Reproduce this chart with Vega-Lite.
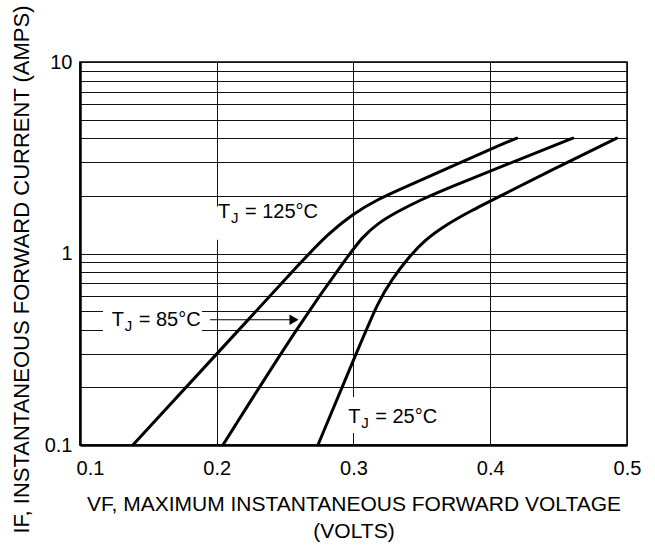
{
  "$schema": "https://vega.github.io/schema/vega-lite/v6.json",
  "width": 547,
  "height": 383,
  "autosize": {"type": "none"},
  "padding": {"left": 80, "top": 62, "right": 28, "bottom": 102},
  "background": "white",
  "config": {
    "font": "Liberation Sans",
    "view": {"stroke": "#000", "strokeWidth": 1.5},
    "axis": {
      "grid": true,
      "gridColor": "#111",
      "gridWidth": 1,
      "gridOpacity": 1,
      "ticks": false,
      "tickSize": 0,
      "domain": true,
      "domainColor": "#000",
      "domainWidth": 2.5,
      "labelColor": "#000",
      "labelFontSize": 20,
      "labelFont": "Liberation Sans",
      "titleFont": "Liberation Sans",
      "titleFontSize": 21,
      "titleFontWeight": "normal",
      "titleColor": "#000",
      "labelOverlap": false
    }
  },
  "datasets": {
    "curves": [
      {"tj": "125", "v": 0.1387, "i": 0.1},
      {"tj": "125", "v": 0.2001, "i": 0.299},
      {"tj": "125", "v": 0.2652, "i": 0.964},
      {"tj": "125", "v": 0.2813, "i": 1.26},
      {"tj": "125", "v": 0.2988, "i": 1.6},
      {"tj": "125", "v": 0.3178, "i": 1.92},
      {"tj": "125", "v": 0.3376, "i": 2.22},
      {"tj": "125", "v": 0.3705, "i": 2.82},
      {"tj": "125", "v": 0.407, "i": 3.68},
      {"tj": "125", "v": 0.4194, "i": 4.0},
      {"tj": "85", "v": 0.2045, "i": 0.1},
      {"tj": "85", "v": 0.2623, "i": 0.451},
      {"tj": "85", "v": 0.2974, "i": 1.0},
      {"tj": "85", "v": 0.3061, "i": 1.21},
      {"tj": "85", "v": 0.3178, "i": 1.44},
      {"tj": "85", "v": 0.3325, "i": 1.66},
      {"tj": "85", "v": 0.35, "i": 1.92},
      {"tj": "85", "v": 0.3705, "i": 2.22},
      {"tj": "85", "v": 0.3997, "i": 2.69},
      {"tj": "85", "v": 0.4604, "i": 4.0},
      {"tj": "25", "v": 0.274, "i": 0.1},
      {"tj": "25", "v": 0.301, "i": 0.289},
      {"tj": "25", "v": 0.3186, "i": 0.574},
      {"tj": "25", "v": 0.3281, "i": 0.731},
      {"tj": "25", "v": 0.339, "i": 0.931},
      {"tj": "25", "v": 0.3522, "i": 1.18},
      {"tj": "25", "v": 0.3683, "i": 1.42},
      {"tj": "25", "v": 0.3851, "i": 1.66},
      {"tj": "25", "v": 0.407, "i": 1.99},
      {"tj": "25", "v": 0.4458, "i": 2.75},
      {"tj": "25", "v": 0.4925, "i": 4.0}
    ],
    "boxes": [
      {"v": 0.1965, "v2": 0.2827, "i": 1.18, "i2": 1.76},
      {"v": 0.1168, "v2": 0.1892, "i": 0.355, "i2": 0.574},
      {"v": 0.2937, "v2": 0.3683, "i": 0.1156, "i2": 0.178}
    ],
    "labels": [
      {"v": 0.2009, "i": 1.64, "rest": "= 125°C"},
      {"v": 0.1232, "i": 0.451, "rest": "= 85°C"},
      {"v": 0.2961, "i": 0.14, "rest": "= 25°C"}
    ],
    "arrow": [
      {"v": 0.1951, "v2": 0.2545, "i": 0.451, "tip": 0.2565}
    ]
  },
  "encoding": {
    "x": {
      "field": "v",
      "type": "quantitative",
      "scale": {"domain": [0.1, 0.5], "nice": false, "zero": false},
      "axis": {
        "values": [0.1, 0.2, 0.3, 0.4, 0.5],
        "format": ".1f",
        "labelFlush": false,
        "labelPadding": 13,
        "labelOffset": {"condition": {"test": "datum.value < 0.15", "value": 10}, "value": 0},
        "title": ["VF, MAXIMUM INSTANTANEOUS FORWARD VOLTAGE", "(VOLTS)"],
        "titlePadding": 15,
        "titleLineHeight": 27
      }
    },
    "y": {
      "field": "i",
      "type": "quantitative",
      "scale": {"type": "log", "domain": [0.1, 10], "nice": false},
      "axis": {
        "values": [0.1, 0.2, 0.3, 0.4, 0.5, 0.6, 0.7, 0.8, 0.9, 1, 2, 3, 4, 5, 6, 7, 8, 9, 10],
        "labelExpr": "datum.value == 0.1 ? '0.1' : datum.value == 1 ? '1' : datum.value == 10 ? '10' : ''",
        "labelPadding": 8,
        "title": "IF, INSTANTANEOUS FORWARD CURRENT (AMPS)",
        "titleFontSize": 22,
        "titleY": 207,
        "titlePadding": 11
      }
    }
  },
  "layer": [
    {
      "data": {"name": "boxes"},
      "mark": {"type": "rect", "fill": "white", "stroke": null},
      "encoding": {
        "x2": {"field": "v2"},
        "y2": {"field": "i2"}
      }
    },
    {
      "data": {"name": "curves"},
      "mark": {"type": "line", "color": "#000", "strokeWidth": 3, "interpolate": "basis", "strokeCap": "round"},
      "encoding": {"detail": {"field": "tj", "type": "nominal"}}
    },
    {
      "data": {"name": "arrow"},
      "mark": {"type": "rule", "color": "#000", "strokeWidth": 1.2},
      "encoding": {"x2": {"field": "v2"}}
    },
    {
      "data": {"name": "arrow"},
      "mark": {"type": "point", "shape": "triangle-right", "filled": true, "color": "#000", "size": 110, "opacity": 1},
      "encoding": {"x": {"field": "tip", "type": "quantitative"}}
    },
    {
      "data": {"name": "labels"},
      "mark": {"type": "text", "align": "left", "baseline": "middle", "fontSize": 20, "color": "#000", "font": "Liberation Sans"},
      "encoding": {"text": {"value": "T"}}
    },
    {
      "data": {"name": "labels"},
      "mark": {"type": "text", "align": "left", "baseline": "middle", "fontSize": 15, "dx": 13, "dy": 6, "color": "#000", "font": "Liberation Sans"},
      "encoding": {"text": {"value": "J"}}
    },
    {
      "data": {"name": "labels"},
      "mark": {"type": "text", "align": "left", "baseline": "middle", "fontSize": 20, "dx": 27, "color": "#000", "font": "Liberation Sans"},
      "encoding": {"text": {"field": "rest"}}
    }
  ]
}
